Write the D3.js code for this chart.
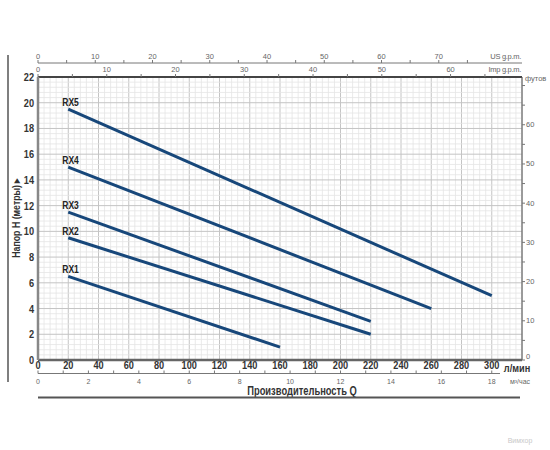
<!DOCTYPE html>
<html><head><meta charset="utf-8">
<script src="https://cdn.jsdelivr.net/npm/d3@7"></script>
<style>body{margin:0;background:#fff}svg{display:block}text{font-family:"Liberation Sans",Arial,sans-serif}</style>
</head><body><svg id="c" width="550" height="450"></svg>
<script>
const seriesNames = ["RX1","RX2","RX3","RX4","RX5"];
const flowStart = [20,20,20,20,20];
const flowEnd   = [160,220,220,260,300];
const headStart = [6.5,9.5,11.5,15,19.5];
const headEnd   = [1,2,3,4,5];
const xTicks = [0,20,40,60,80,100,120,140,160,180,200,220,240,260,280,300];
const yTicks = [0,2,4,6,8,10,12,14,16,18,20,22];
const usTicks = [0,10,20,30,40,50,60,70];
const impTicks = [0,10,20,30,40,50,60];
const m3Ticks = [0,2,4,6,8,10,12,14,16,18];
const ftTicks = [0,10,20,30,40,50,60];

const svg = d3.select("#c");
const x = d3.scaleLinear().domain([0,320]).range([38,522]);
const y = d3.scaleLinear().domain([0,22]).range([360,77]);
const [L,R] = x.range(), [B,T] = y.range();
const SX = 0.8;

// grid
const g = svg.append("g");
d3.range(0,320.01,4).forEach(v=>{
  const major = v%20===0;
  g.append("line").attr("x1",x(v)).attr("x2",x(v)).attr("y1",T).attr("y2",B)
   .attr("stroke",major?"#c4c4c4":"#e4e4e4").attr("stroke-width",major?1:0.8);
});
d3.range(0,22.01,0.4).forEach(v=>{
  const major = Math.abs(v/2-Math.round(v/2))<1e-6;
  g.append("line").attr("x1",L).attr("x2",R).attr("y1",y(v)).attr("y2",y(v))
   .attr("stroke",major?"#c4c4c4":"#e4e4e4").attr("stroke-width",major?1:0.8);
});
// borders
svg.append("line").attr("x1",L).attr("x2",R).attr("y1",T).attr("y2",T).attr("stroke","#444").attr("stroke-width",2);
svg.append("line").attr("x1",R).attr("x2",R).attr("y1",T).attr("y2",B).attr("stroke","#555").attr("stroke-width",1);
svg.append("line").attr("x1",L).attr("x2",R).attr("y1",B).attr("y2",B).attr("stroke","#666").attr("stroke-width",2.5);
svg.append("line").attr("x1",L).attr("x2",L).attr("y1",T).attr("y2",B).attr("stroke","#888").attr("stroke-width",2.5);

// left axis labels
svg.append("g").selectAll("text").data(yTicks).join("text")
  .attr("transform",d=>`translate(34,${y(d)+4}) scale(${SX},1)`).attr("text-anchor","end")
  .attr("font-size",11.5).attr("font-weight","bold").attr("fill","#333").text(d=>d);
// bottom axis labels
svg.append("g").selectAll("text").data(xTicks).join("text")
  .attr("transform",d=>`translate(${x(d)},369) scale(${SX},1)`).attr("text-anchor","middle")
  .attr("font-size",11.5).attr("font-weight","bold").attr("fill","#333").text(d=>d);
svg.append("text").attr("transform",`translate(517,372) scale(${SX},1)`).attr("text-anchor","middle")
  .attr("font-size",11.5).attr("font-weight","bold").attr("fill","#333").text("л/мин");

// m3/h axis
svg.append("line").attr("x1",L).attr("x2",500).attr("y1",373.5).attr("y2",373.5).attr("stroke","#777").attr("stroke-width",1);
svg.append("g").selectAll("line").data(d3.range(0,19)).join("line")
  .attr("x1",d=>x(d*1000/60)).attr("x2",d=>x(d*1000/60)).attr("y1",373.5).attr("y2",370.5)
  .attr("stroke","#777").attr("stroke-width",1);
svg.append("g").selectAll("text").data(m3Ticks).join("text")
  .attr("x",d=>x(d*1000/60)).attr("y",384).attr("text-anchor","middle")
  .attr("font-size",7).attr("fill","#666").text(d=>d);
svg.append("text").attr("x",520).attr("y",384).attr("text-anchor","middle")
  .attr("font-size",7).attr("fill","#666").text("м³/час");
svg.append("text").attr("transform",`translate(302,395) scale(0.78,1)`).attr("text-anchor","middle")
  .attr("font-size",12).attr("font-weight","bold").attr("fill","#333").text("Производительность  Q");
svg.append("line").attr("x1",38).attr("x2",520).attr("y1",397.5).attr("y2",397.5).attr("stroke","#555").attr("stroke-width",2);

// US gpm axis
const US = 3.78541, IMP = 4.54609;
svg.append("line").attr("x1",L).attr("x2",R).attr("y1",63).attr("y2",63).attr("stroke","#777").attr("stroke-width",1);
svg.append("g").selectAll("line").data(d3.range(0,76,5)).join("line")
  .attr("x1",d=>x(d*US)).attr("x2",d=>x(d*US)).attr("y1",63).attr("y2",60)
  .attr("stroke","#777").attr("stroke-width",1);
svg.append("g").selectAll("text").data(usTicks).join("text")
  .attr("x",d=>x(d*US)).attr("y",59).attr("text-anchor","middle")
  .attr("font-size",7.5).attr("fill","#666").text(d=>d);
svg.append("text").attr("x",521).attr("y",59).attr("text-anchor","end")
  .attr("font-size",7.5).attr("fill","#666").attr("letter-spacing",-0.3).text("US g.p.m.");
// Imp gpm axis
svg.append("g").selectAll("line").data(d3.range(0,66,5)).join("line")
  .attr("x1",d=>x(d*IMP)).attr("x2",d=>x(d*IMP)).attr("y1",T).attr("y2",T-3)
  .attr("stroke","#777").attr("stroke-width",1);
svg.append("g").selectAll("text").data(impTicks).join("text")
  .attr("x",d=>x(d*IMP)).attr("y",72).attr("text-anchor","middle")
  .attr("font-size",7.5).attr("fill","#666").text(d=>d);
svg.append("text").attr("x",521).attr("y",72).attr("text-anchor","end")
  .attr("font-size",7.5).attr("fill","#666").attr("letter-spacing",-0.3).text("Imp g.p.m.");

// feet axis
const FT = 0.3048;
svg.append("g").selectAll("line").data(d3.range(0,71,5)).join("line")
  .attr("x1",R).attr("x2",R+3).attr("y1",d=>y(d*FT)).attr("y2",d=>y(d*FT))
  .attr("stroke","#777").attr("stroke-width",1);
svg.append("g").selectAll("text").data(ftTicks).join("text")
  .attr("x",R+4).attr("y",d=>y(d*FT)+(d===0?-1:2.5))
  .attr("font-size",7.5).attr("fill","#666").text(d=>d);
svg.append("text").attr("x",525).attr("y",81)
  .attr("font-size",7.5).attr("fill","#666").text("футов");

// outer left line + y title
svg.append("line").attr("x1",8).attr("x2",8).attr("y1",55).attr("y2",382).attr("stroke","#555").attr("stroke-width",1.5);
svg.append("text").attr("transform","translate(20,218) rotate(-90) scale(0.8,1)").attr("text-anchor","middle")
  .attr("font-size",11).attr("font-weight","bold").attr("fill","#333").text("Напор  H (метры)   ▸");

// curves
const line = d3.line().x(d=>x(d[0])).y(d=>y(d[1]));
seriesNames.forEach((n,i)=>{
  svg.append("path").attr("d",line([[flowStart[i],headStart[i]],[flowEnd[i],headEnd[i]]]))
    .attr("stroke","#17477a").attr("stroke-width",3).attr("fill","none");
  svg.append("text").attr("transform",`translate(${x(flowStart[i])-6},${y(headStart[i])-3}) scale(0.85,1)`)
    .attr("font-size",10).attr("font-weight","bold").attr("fill","#222").text(n);
});

svg.append("text").attr("x",520).attr("y",443).attr("text-anchor","middle")
  .attr("font-size",7).attr("fill","#c8c8c8").text("Вимхор");
</script></body></html>
